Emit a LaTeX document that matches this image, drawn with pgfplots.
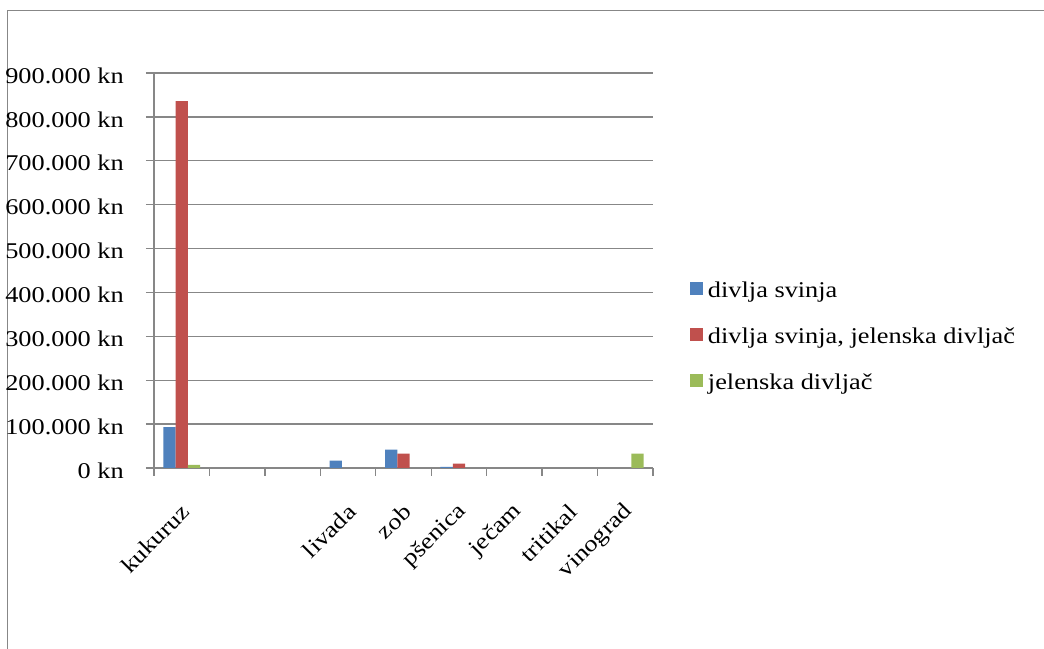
\documentclass[border=0pt]{standalone}
\usepackage{fontspec}
\setmainfont{Liberation Serif}[FakeStretch=1.17]
\usepackage{pgfplots}
\pgfplotsset{compat=1.18}
\definecolor{sblue}{HTML}{4F81BD}
\definecolor{sred}{HTML}{C0504D}
\definecolor{sgreen}{HTML}{9BBB59}
\definecolor{gridgray}{HTML}{878787}
\begin{document}
\fontsize{22.5bp}{27bp}\selectfont
\begin{tikzpicture}
\useasboundingbox (0,0) rectangle (1044bp,649bp);
\draw[gridgray, line width=1.6bp] (7.5bp,0) -- (7.5bp,638.5bp) -- (1044bp,638.5bp);
\begin{axis}[
 at={(154bp,181bp)}, anchor=south west,
 scale only axis, width=499bp, height=395bp,
 xmin=-0.5, xmax=8.5, ymin=0, ymax=900000,
 ybar=0pt, bar width=12.3bp,
 xtick={-0.5,0.5,1.5,2.5,3.5,4.5,5.5,6.5,7.5,8.5},
 x tick label as interval,
 xticklabels={kukuruz,{},{},livada,zob,pšenica,ječam,tritikal,vinograd},
 ytick={0,100000,200000,300000,400000,500000,600000,700000,800000,900000},
 yticklabels={0 kn,100.000 kn,200.000 kn,300.000 kn,400.000 kn,500.000 kn,600.000 kn,700.000 kn,800.000 kn,900.000 kn},
 scaled y ticks=false,
 ymajorgrids, grid style={gridgray, line width=1.3bp},
 axis x line*=bottom, axis y line*=left,
 axis line style={gridgray, line width=1.3bp, -},
 tick style={gridgray, line width=1.3bp},
 tick align=outside, major tick length=8bp,
 yticklabel style={anchor=east, inner sep=0pt, xshift=-22bp, yshift=-2.5bp},
 xticklabel style={xshift=4bp, yshift=-32bp, rotate=45, anchor=east, inner sep=0pt},
 legend style={at={(1.0741,0.4752)}, anchor=north west, draw=none, fill=none,
   inner sep=0pt, outer sep=0pt, row sep=23bp, column sep=5bp,
   nodes={inner sep=0pt, text height=17bp, text depth=6bp, anchor=base west}},
]
\addplot[fill=sblue, draw=none, legend image code/.code={\fill[sblue] (0bp,2.6bp) rectangle (13bp,15.6bp);}]
  coordinates {(0,93000) (3,17000) (4,42000) (5,2500)};
\addlegendentry{divlja svinja}
\addplot[fill=sred, draw=none, legend image code/.code={\fill[sred] (0bp,2.6bp) rectangle (13bp,15.6bp);}]
  coordinates {(0,836000) (4,33000) (5,10000)};
\addlegendentry{divlja svinja, jelenska divljač}
\addplot[fill=sgreen, draw=none, legend image code/.code={\fill[sgreen] (0bp,2.6bp) rectangle (13bp,15.6bp);}]
  coordinates {(0,7000) (8,33000)};
\addlegendentry{jelenska divljač}
\end{axis}
\end{tikzpicture}
\end{document}
